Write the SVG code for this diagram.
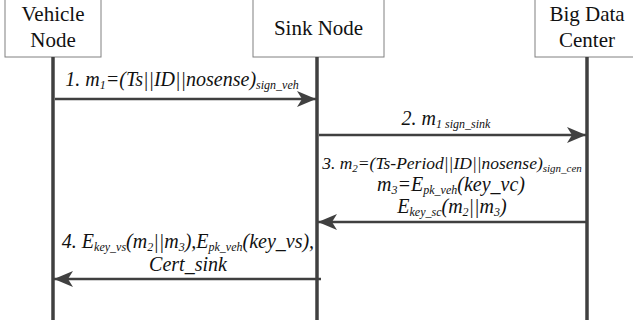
<svg xmlns="http://www.w3.org/2000/svg" width="633" height="326" viewBox="0 0 633 326">
<style>
.box{fill:#fff;stroke:#808080;stroke-width:1}
.title{font-family:'Liberation Serif','Times New Roman',Times,'DejaVu Serif',serif;font-size:21px;fill:#111;text-anchor:middle}
.life{stroke:#404040;stroke-width:3.5;fill:none}
.msg{stroke:#404040;stroke-width:2.6;fill:none;marker-end:url(#ah)}
.lbl{font-family:'Liberation Serif','Times New Roman',Times,'DejaVu Serif',serif;font-style:italic;font-size:20px;fill:#111;text-anchor:middle}
.s{font-size:12px}
.l3{font-size:17.5px}
.l3s{font-size:11px}
</style>
<defs>
<marker id="ah" markerUnits="userSpaceOnUse" markerWidth="20" markerHeight="16" refX="19" refY="8" orient="auto">
<path d="M0,0 L19,8 L0,16 L5,8 Z" fill="#404040"/>
</marker>
</defs>
<rect width="633" height="326" fill="#fff"/>
<g id="vehicle">
<rect class="box" x="5" y="-1" width="96" height="58"/>
<text class="title" x="53" y="21">Vehicle</text>
<text class="title" x="53" y="47">Node</text>
<line class="life" x1="53" y1="57" x2="53" y2="320"/>
</g>
<g id="sink">
<rect class="box" x="253" y="-1" width="131" height="58"/>
<text class="title" x="318.5" y="35">Sink Node</text>
<line class="life" x1="317" y1="57" x2="317" y2="320"/>
</g>
<g id="bigdata">
<rect class="box" x="535" y="-1" width="105" height="58"/>
<text class="title" x="587" y="21">Big Data</text>
<text class="title" x="587" y="47">Center</text>
<line class="life" x1="587" y1="57" x2="587" y2="320"/>
</g>
<g id="connectors">
<line class="msg" x1="55" y1="99" x2="316" y2="99"/>
<line class="msg" x1="319" y1="135" x2="586" y2="135"/>
<line class="msg" x1="586" y1="222" x2="318" y2="222"/>
<line class="msg" x1="321" y1="279" x2="54" y2="279"/>
</g>
<g id="labels">
<text class="lbl" x="182" y="86">1. m<tspan class="s" dy="3">1</tspan><tspan dy="-3">=(Ts||ID||nosense)</tspan><tspan class="s" dy="3">sign_veh</tspan></text>
<text class="lbl" x="446" y="125">2. m<tspan class="s" dy="3">1 sign_sink</tspan></text>
<text class="lbl l3" x="452" y="169">3. m<tspan class="l3s" dy="3">2</tspan><tspan dy="-3">=(Ts-Period||ID||nosense)</tspan><tspan class="l3s" dy="3">sign_cen</tspan></text>
<text class="lbl" x="451" y="191">m<tspan class="s" dy="3">3</tspan><tspan dy="-3">=E</tspan><tspan class="s" dy="3">pk_veh</tspan><tspan dy="-3">(key_vc)</tspan></text>
<text class="lbl" x="452" y="213">E<tspan class="s" dy="3">key_sc</tspan><tspan dy="-3">(m</tspan><tspan class="s" dy="3">2</tspan><tspan dy="-3">||m</tspan><tspan class="s" dy="3">3</tspan><tspan dy="-3">)</tspan></text>
<text class="lbl" x="188" y="248">4. E<tspan class="s" dy="3">key_vs</tspan><tspan dy="-3">(m</tspan><tspan class="s" dy="3">2</tspan><tspan dy="-3">||m</tspan><tspan class="s" dy="3">3</tspan><tspan dy="-3">),E</tspan><tspan class="s" dy="3">pk_veh</tspan><tspan dy="-3">(key_vs),</tspan></text>
<text class="lbl" x="188" y="271">Cert_sink</text>
</g>
</svg>
